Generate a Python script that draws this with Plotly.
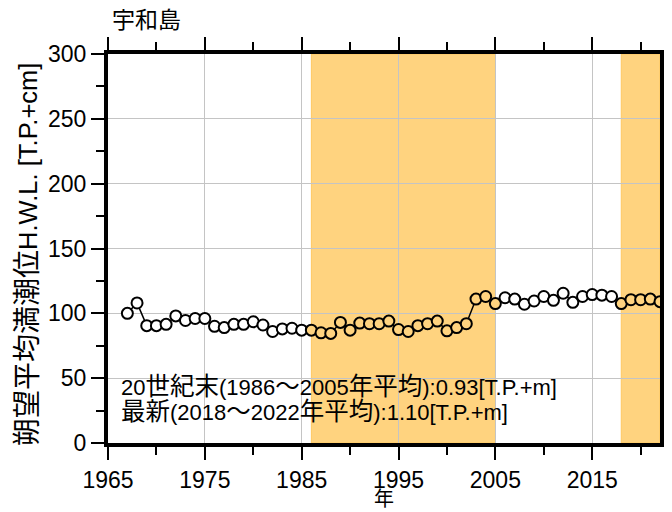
import re
import plotly.graph_objects as go

years = list(range(1967, 2023))
hwl = [100, 108, 90.5, 90.5, 91.5, 98, 94.5, 96, 96, 90, 89, 91.5, 91.5, 93.5, 91,
       86, 88, 88.5, 87, 87, 85, 84.5, 93, 87, 92.5, 92, 92, 94, 87.5, 86,
       90.5, 92, 94, 86.5, 89, 92, 111, 113, 107.5, 112, 111, 107, 109.5, 113,
       110, 115.5, 108.5, 113, 114.5, 114, 113, 107.5, 110.5, 110.5, 111, 109]
periods = [(1986, 2005), (2018, 2022)]
title_text = "宇和島"
y_title = "朔望平均満潮位H.W.L. [T.P.+cm]"
x_title = "年"
note_lines = ["20世紀末(1986～2005年平均):0.93[T.P.+m]",
              "最新(2018～2022年平均):1.10[T.P.+m]"]

SHADE = "#FFD37F"
FONT = "Liberation Sans, Arial, Noto Sans CJK JP, sans-serif"


def cjk_big(s, size):
    # enlarge runs of CJK characters (the reference CJK glyphs are larger)
    return re.sub(r"([\u2E80-\uFFEF]+)",
                  lambda m: f'<span style="font-size:{size}px">{m.group(1)}</span>', s)


fill = [SHADE if any(a <= y <= b for a, b in periods) else "white" for y in years]

fig = go.Figure()
fig.add_trace(go.Scatter(x=years, y=hwl, mode="lines",
                         line=dict(color="black", width=1.5),
                         hoverinfo="skip", showlegend=False))
fig.add_trace(go.Scatter(x=years, y=hwl, mode="markers",
                         marker=dict(symbol="circle", size=11, color=fill,
                                     line=dict(color="black", width=2)),
                         showlegend=False))

for a, b in periods:
    fig.add_shape(type="rect", xref="x", yref="y", x0=a, x1=b, y0=0, y1=300,
                  fillcolor=SHADE, line=dict(color="#FFC860", width=1), layer="below")

axis_common = dict(showline=True, linewidth=4, linecolor="black", mirror="ticks",
                   ticks="outside", ticklen=13, tickwidth=2, tickcolor="black",
                   showgrid=True, gridcolor="#C4C4C4", gridwidth=1, zeroline=False,
                   automargin=False,
                   tickfont=dict(size=23, color="black", family=FONT))

fig.update_xaxes(range=[1965, 2022], dtick=10, tick0=1965,
                 minor=dict(dtick=5, tick0=1965, ticks="outside", ticklen=8,
                            tickwidth=2, tickcolor="black", showgrid=False),
                 **axis_common)
fig.update_yaxes(range=[0, 300], dtick=50,
                 minor=dict(dtick=25, ticks="outside", ticklen=8,
                            tickwidth=2, tickcolor="black", showgrid=False),
                 **axis_common)

# axis titles
fig.add_annotation(text=x_title, xref="paper", yref="paper", x=0.5, y=-0.143,
                   xanchor="center", yanchor="middle", showarrow=False,
                   font=dict(size=20, color="black", family=FONT))
fig.add_annotation(text=cjk_big(y_title, 28), xref="paper", yref="paper",
                   x=-0.145, y=0.486, textangle=-90,
                   xanchor="center", yanchor="middle", showarrow=False,
                   font=dict(size=25.5, color="black", family=FONT))

fig.add_annotation(text=title_text, xref="paper", yref="paper", x=0.003, y=1.087,
                   xanchor="left", yanchor="middle", showarrow=False,
                   font=dict(size=23, color="black", family=FONT))
for txt, yy in zip(note_lines, [0.146, 0.082]):
    fig.add_annotation(text=cjk_big(txt, 24.5), xref="paper", yref="paper", x=0.02, y=yy,
                       xanchor="left", yanchor="middle", showarrow=False,
                       font=dict(size=22, color="black", family=FONT))

# the page body has an 8px margin: shrink the figure and the left/top margins by 8px
fig.update_layout(width=664, height=504,
                  margin=dict(l=100, r=12, t=46, b=69),
                  plot_bgcolor="white", paper_bgcolor="white",
                  font=dict(family=FONT, color="black"))

fig.write_html("out.html")
